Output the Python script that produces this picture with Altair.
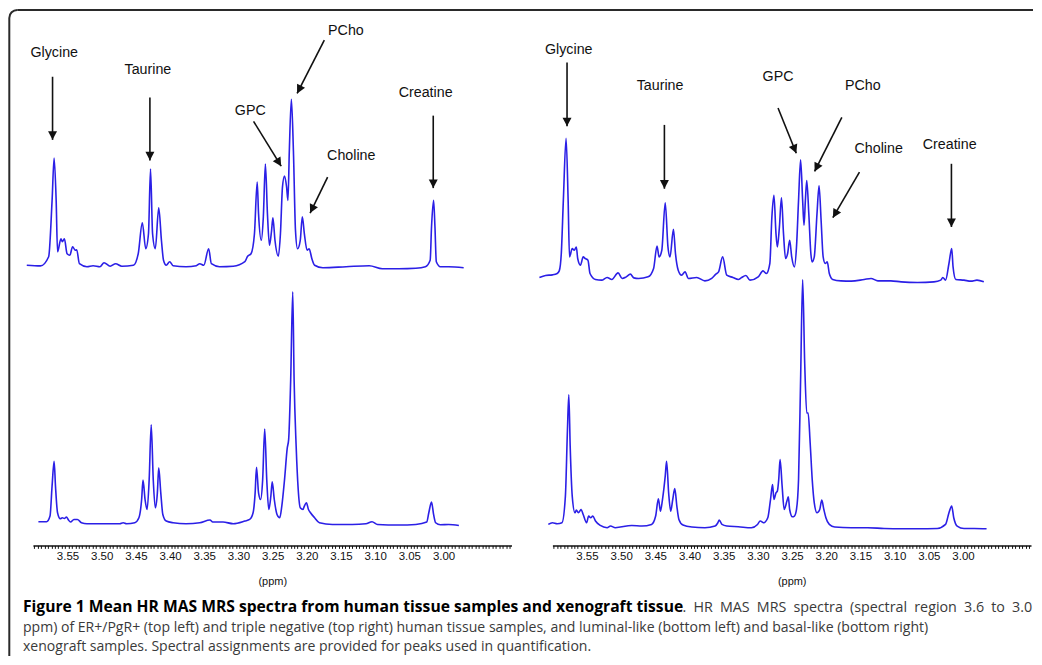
import math
import altair as alt
import pandas as pd

# ---------------- spectra: (chemical shift in ppm, intensity a.u. above own baseline) -------------
# top left: ER+/PgR+ human tissue
LT = [(3.611, 1.5), (3.591, 0.8), (3.579, 10), (3.574, 66), (3.571, 109), (3.568, 66), (3.566, 15), (3.561, 28), (3.559, 25), (3.556, 28),
      (3.552, 13), (3.548, 11.5), (3.544, 20), (3.540, 16.5), (3.538, 17), (3.534, 3), (3.523, 0), (3.514, 1), (3.504, 0), (3.498, 4),
      (3.489, 0.5), (3.481, 3), (3.472, 0.5), (3.455, 1.5), (3.448, 13), (3.442, 44), (3.437, 18), (3.433, 33), (3.430, 98), (3.427, 33),
      (3.423, 18), (3.418, 59), (3.414, 26), (3.411, 6.5), (3.407, 1.5), (3.402, 5), (3.397, 1), (3.378, 0), (3.363, 1), (3.358, 3),
      (3.352, 1.5), (3.345, 18), (3.341, 3), (3.329, 0), (3.309, 0.5), (3.292, 5), (3.288, 10.5), (3.283, 13), (3.278, 33), (3.274, 85),
      (3.272, 53), (3.268, 26.5), (3.265, 50), (3.262, 103), (3.259, 53), (3.256, 21.5), (3.253, 36), (3.251, 49), (3.248, 26.5), (3.243, 10.5),
      (3.240, 33), (3.237, 80), (3.234, 91), (3.231, 80), (3.229, 66.5), (3.227, 116), (3.224, 168), (3.221, 116), (3.218, 36.5), (3.215, 18),
      (3.211, 26.5), (3.208, 50), (3.205, 33), (3.201, 16.5), (3.198, 18), (3.194, 8), (3.190, 1.5), (3.178, -1), (3.144, 0), (3.110, 1),
      (3.091, -2), (3.067, -2), (3.042, -1.5), (3.028, 0), (3.021, 6.5), (3.019, 40), (3.016, 66.5), (3.014, 40), (3.012, 5), (3.006, 0),
      (2.994, 0), (2.972, -1)]

# bottom left: luminal-like xenograft
LB = [(3.594, 2), (3.582, 2), (3.577, 7.7), (3.574, 37.7), (3.571, 62.7), (3.569, 37.7), (3.566, 11), (3.562, 5), (3.559, 6), (3.556, 5.3),
      (3.553, 6.7), (3.550, 3.7), (3.547, 1.7), (3.542, 4.3), (3.537, 4.3), (3.531, 1), (3.523, 0), (3.504, 0), (3.475, 0), (3.470, 1),
      (3.465, 0), (3.453, 1), (3.447, 6), (3.443, 24.3), (3.441, 43.7), (3.438, 24.3), (3.435, 14.3), (3.432, 44), (3.429, 99.3), (3.426, 44),
      (3.423, 16), (3.420, 31), (3.418, 56), (3.415, 31), (3.412, 9.3), (3.407, 2.7), (3.397, 1), (3.378, 0), (3.358, 1), (3.343, 3.7),
      (3.339, 1.7), (3.324, 1.7), (3.309, 0), (3.292, 2.7), (3.285, 4.3), (3.280, 11), (3.277, 31), (3.275, 56.7), (3.272, 31), (3.269, 24.3),
      (3.266, 44), (3.263, 95), (3.260, 44), (3.257, 14.3), (3.254, 27.7), (3.252, 42), (3.249, 24.3), (3.245, 9.3), (3.241, 6), (3.238, 17.7),
      (3.234, 44.3), (3.230, 76), (3.228, 84.3), (3.225, 144.3), (3.222, 232.7), (3.220, 144.3), (3.217, 77.7), (3.214, 34.3), (3.211, 16), (3.207, 14.3),
      (3.205, 17.7), (3.202, 21), (3.199, 14.3), (3.196, 11), (3.190, 6), (3.183, 1), (3.164, -0.7), (3.135, -0.7), (3.115, 0), (3.106, 2),
      (3.098, -0.7), (3.067, -1.3), (3.042, -0.7), (3.026, 1.7), (3.023, 11), (3.019, 21.7), (3.016, 9.3), (3.013, 1), (3.006, -1), (2.994, -0.7),
      (2.979, -1.7)]

# top right: triple negative human tissue
RT = [(3.621, 3.7), (3.612, 5.7), (3.602, 6.3), (3.595, 7.7), (3.592, 10.3), (3.589, 27.7), (3.586, 81), (3.582, 143.3), (3.579, 81), (3.577, 24.3),
      (3.573, 32.7), (3.570, 31), (3.567, 34.3), (3.565, 22.7), (3.561, 16), (3.557, 24.3), (3.554, 22.7), (3.550, 21), (3.547, 7.7), (3.539, 1.7),
      (3.530, 1), (3.522, 3.7), (3.515, 1.7), (3.506, 8.3), (3.500, 2.7), (3.494, 4.3), (3.488, 7), (3.483, 3.3), (3.476, 2.7), (3.462, 4.3),
      (3.454, 12.7), (3.449, 35.3), (3.446, 24.3), (3.442, 31), (3.437, 78.7), (3.433, 34.3), (3.430, 24.3), (3.425, 52), (3.422, 27.7), (3.418, 11),
      (3.413, 6), (3.408, 9.3), (3.403, 2.7), (3.391, 3.7), (3.379, 0.3), (3.369, 2.7), (3.363, 7), (3.359, 9.3), (3.353, 24.3), (3.347, 6),
      (3.338, 3.7), (3.330, 1.7), (3.326, 3.3), (3.319, 5.7), (3.313, 1), (3.301, 4.3), (3.294, 10.3), (3.289, 7.7), (3.284, 17.7), (3.281, 64.3),
      (3.278, 86), (3.275, 47.7), (3.273, 34.3), (3.270, 54.3), (3.267, 83.7), (3.264, 47.7), (3.261, 22.7), (3.258, 27.7), (3.255, 41), (3.252, 24.3),
      (3.248, 14.3), (3.245, 34.3), (3.242, 81), (3.239, 121.7), (3.236, 81), (3.234, 56), (3.232, 81), (3.230, 101), (3.227, 67.7), (3.224, 27.7),
      (3.222, 19.3), (3.219, 24.3), (3.215, 67.7), (3.212, 95.7), (3.209, 61), (3.206, 24.3), (3.203, 17.7), (3.200, 19.3), (3.197, 7.7), (3.192, 1.7),
      (3.180, 0.3), (3.165, 0), (3.146, 1.7), (3.136, 2.7), (3.126, 0.3), (3.107, 0.3), (3.092, -0.7), (3.068, -1.3), (3.044, -0.7), (3.034, 1),
      (3.031, 3.7), (3.027, 1), (3.022, 17.7), (3.018, 32.7), (3.016, 14.3), (3.012, 1.7), (3.000, 1), (2.990, 0), (2.981, 1), (2.971, -0.7)]

# bottom right: basal-like xenograft
RB = [(3.608, 3.3), (3.602, 5), (3.595, 4), (3.588, 5), (3.583, 31.7), (3.580, 98.3), (3.578, 133.3), (3.576, 81.7), (3.573, 31.7), (3.569, 15),
      (3.567, 17.7), (3.564, 15), (3.560, 18.3), (3.557, 13.3), (3.552, 5), (3.549, 11.7), (3.546, 10), (3.543, 11.7), (3.539, 6.7), (3.532, 2.3),
      (3.522, 0), (3.517, 1.7), (3.510, 0), (3.486, 2.3), (3.471, 1.7), (3.457, 3.3), (3.451, 11.7), (3.447, 29), (3.444, 16.7), (3.441, 28.3),
      (3.437, 51.7), (3.435, 66.7), (3.432, 35), (3.429, 16.7), (3.426, 28.3), (3.423, 39.3), (3.420, 21.7), (3.417, 8.3), (3.411, 2.7), (3.398, 0.7),
      (3.379, 0), (3.364, 1.7), (3.360, 5), (3.358, 7.7), (3.354, 3.3), (3.347, 1.7), (3.330, 1), (3.311, 0), (3.302, 3.3), (3.298, 6.7),
      (3.293, 5), (3.287, 10), (3.283, 28.3), (3.280, 43.3), (3.278, 28.3), (3.275, 35), (3.273, 36.7), (3.271, 48.3), (3.269, 68.3), (3.266, 41.7),
      (3.263, 18.3), (3.259, 26.7), (3.257, 31), (3.255, 18.3), (3.251, 11), (3.248, 11.7), (3.245, 18.3), (3.242, 48.3), (3.239, 148.3), (3.236, 248.8),
      (3.233, 165), (3.230, 115), (3.228, 115), (3.225, 85), (3.222, 48.3), (3.219, 25), (3.215, 15), (3.211, 18.3), (3.208, 27.7), (3.205, 18.3),
      (3.202, 10), (3.197, 3.3), (3.189, 0.7), (3.165, 0), (3.141, 0), (3.117, -0.7), (3.092, -1), (3.068, -1), (3.039, -0.7), (3.027, 3.3),
      (3.022, 15), (3.018, 21.7), (3.015, 10), (3.010, 1.7), (3.000, -0.7), (2.985, -0.7), (2.967, -1)]

# peak assignments: label, label ppm/height, arrow start ppm/height, arrow tip ppm/height
LEFT_ANN = [
    ("Glycine", 3.5708, 494.3, 3.5733, 470.0, 3.5733, 406.7),
    ("Taurine", 3.4338, 476.7, 3.4309, 449.3, 3.4309, 386.0),
    ("GPC", 3.2841, 436.0, 3.2793, 425.3, 3.2389, 380.3),
    ("PCho", 3.1442, 516.0, 3.1758, 506.7, 3.2156, 453.3),
    ("Choline", 3.1364, 391.0, 3.1710, 369.3, 3.1966, 333.3),
    ("Creatine", 3.0276, 453.7, 3.0165, 431.0, 3.0165, 358.3),
]
RIGHT_ANN = [
    ("Glycine", 3.5781, 497.0, 3.5806, 484.3, 3.5806, 420.3),
    ("Taurine", 3.4445, 461.0, 3.4382, 421.7, 3.4382, 357.7),
    ("GPC", 3.2720, 469.3, 3.2720, 438.7, 3.2453, 393.3),
    ("PCho", 3.1481, 461.0, 3.1787, 429.3, 3.2185, 375.0),
    ("Choline", 3.1248, 397.3, 3.1529, 374.3, 3.1918, 328.7),
    ("Creatine", 3.0209, 402.0, 3.0184, 382.7, 3.0184, 319.3),
]

TICK_VALUES = [round(3.600 - 0.005 * i, 3) for i in range(140)]

# caption (line 1 is justified in the source: its plain part uses wider en spaces)
CAP1_BOLD = "Figure 1 Mean HR MAS MRS spectra from human tissue samples and xenograft tissue"
CAP1_NORM = ". HR MAS MRS spectra (spectral region 3.6 to 3.0".replace(" ", "\u2002")
CAPTION_2 = ("ppm) of ER+/PgR+ (top left) and triple negative (top right) human tissue samples, "
             "and luminal-like (bottom left) and basal-like (bottom right)")
CAPTION_3 = "xenograft samples. Spectral assignments are provided for peaks used in quantification."

# ---------------- layout / style ----------------
W, H = 480, 530
X_DOMAIN = [2.902, 3.602]
Y_DOMAIN = [0, 530]
PX_PER_PPM = W / (X_DOMAIN[1] - X_DOMAIN[0])
PX_PER_UNIT = H / (Y_DOMAIN[1] - Y_DOMAIN[0])
BLUE = "#2b1fe6"
INK = "#111111"
ARROW = "M0,0L-0.52,-1L0.52,-1Z"

LABEL_EXPR = ("(abs(datum.value*20 - round(datum.value*20)) < 0.001 && datum.value < 3.575 "
              "&& datum.value > 2.995) ? format(datum.value, '.2f') : ''")


def xenc(field):
    return alt.X(
        f"{field}:Q",
        scale=alt.Scale(domain=X_DOMAIN, reverse=True, zero=False, nice=False),
        axis=alt.Axis(values=TICK_VALUES, labelExpr=LABEL_EXPR, title="(ppm)", orient="bottom",
                      tickSize=3, tickColor=INK, tickWidth=1, domainColor=INK, domainWidth=1.5,
                      labelFont="Liberation Sans", labelFontSize=11.5, labelColor=INK, labelPadding=2,
                      labelOffset=-1, labelOverlap=False, labelFlush=False, grid=False,
                      titleFont="Liberation Sans", titleFontSize=11, titleFontWeight="normal",
                      titleColor=INK, titlePadding=14),
    )


def yenc(field):
    return alt.Y(f"{field}:Q", scale=alt.Scale(domain=Y_DOMAIN, zero=False, nice=False), axis=None)


def spectra_df(pairs_top, off_top, pairs_bot, off_bot):
    rows = []
    for name, pairs, off in (("top", pairs_top, off_top), ("bottom", pairs_bot, off_bot)):
        for i, (p, v) in enumerate(pairs):
            rows.append({"ppm": p, "y": v + off, "spec": name, "i": i})
    return pd.DataFrame(rows)


def ann_df(ann):
    rows = []
    for lab, lx, ly, sx, sy, tx, ty in ann:
        dx = (sx - tx) * PX_PER_PPM
        dy = (sy - ty) * PX_PER_UNIT
        ang = math.degrees(math.atan2(-dx, dy)) % 360
        rows.append({"label": lab, "lx": lx, "ly": ly, "sx": sx, "sy": sy, "tx": tx, "ty": ty, "angle": ang})
    return pd.DataFrame(rows)


def panel(spec, ann, extra=()):
    lines = alt.Chart(spec).mark_line(color=BLUE, strokeWidth=1.6, interpolate="monotone").encode(
        x=xenc("ppm"), y=yenc("y"), detail="spec:N", order="i:Q")
    shafts = alt.Chart(ann).mark_rule(color=INK, strokeWidth=1.6).encode(
        x=xenc("sx"), y=yenc("sy"), x2="tx:Q", y2="ty:Q")
    heads = alt.Chart(ann).mark_point(shape=ARROW, filled=True, size=300, color=INK, opacity=1,
                                      strokeWidth=0).encode(
        x=xenc("tx"), y=yenc("ty"), angle=alt.Angle("angle:Q", scale=None))
    labels = alt.Chart(ann).mark_text(font="Liberation Sans", fontSize=14.3, color=INK,
                                      baseline="middle").encode(
        x=xenc("lx"), y=yenc("ly"), text="label:N")
    return alt.layer(*extra, lines, shafts, heads, labels).properties(width=W, height=H)


one = pd.DataFrame({"k": [0]})
R = 8
BORDER = "#2a2a2a"
border = [
    alt.Chart(one).mark_rule(color=BORDER, strokeWidth=2).encode(
        x=alt.value(-23.7 + R), x2=alt.value(1003), y=alt.value(-7)),
    alt.Chart(one).mark_rule(color=BORDER, strokeWidth=2).encode(
        x=alt.value(-23.7), y=alt.value(-7 + R), y2=alt.value(641)),
    alt.Chart(one).mark_arc(color=BORDER, theta=3 * math.pi / 2, theta2=2 * math.pi,
                            radius=R + 1, radius2=R - 1).encode(
        x=alt.value(-23.7 + R), y=alt.value(-7 + R)),
]

left = panel(spectra_df(LT, 279.5, LB, 21.7), ann_df(LEFT_ANN), border)
right = panel(spectra_df(RT, 265.0, RB, 17.7), ann_df(RIGHT_ANN))

CAP_FONT = "Open Sans"
CAP_X0 = 32  # page x of the caption view's left edge, used to read positions off the source


def cap(text, x_page, y, size, align="left", bold=False):
    return alt.Chart(one).mark_text(
        align=align, baseline="alphabetic", font=CAP_FONT, fontSize=size,
        fontWeight="bold" if bold else "normal", color="#000" if bold else "#3a3a3a", text=text
    ).encode(x=alt.value(x_page - CAP_X0), y=alt.value(y))


caption = alt.layer(
    cap(CAP1_BOLD, 22, 14.7, 15.7, "left", True),
    cap(CAP1_NORM, 683.5, 14.7, 14.35, "left"),
    cap(CAPTION_2, 22, 35, 14.1),
    cap(CAPTION_3, 22, 54, 14.1),
).properties(width=W, height=56)

chart = alt.concat(
    left, right, caption,
    columns=2,
    spacing={"row": 52, "column": 41},
    bounds="flush",
).properties(padding=0, background="white").configure_view(strokeWidth=0)

chart.save("out.html", embed_options={"renderer": "svg", "actions": False})
